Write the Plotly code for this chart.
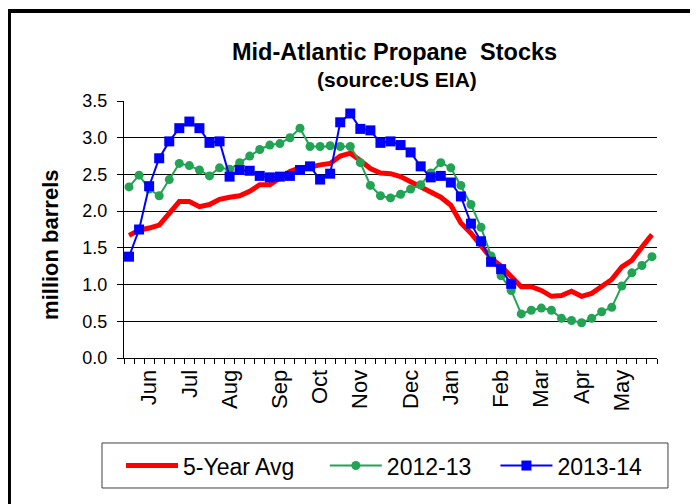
import plotly.graph_objects as go

# weekly points, late May through the following May
weeks = list(range(53))
month_labels = ["Jun", "Jul", "Aug", "Sep", "Oct", "Nov", "Dec", "Jan", "Feb", "Mar", "Apr", "May"]
month_weeks = [2, 6, 10, 15, 19, 23, 28, 32, 37, 41, 45, 49]

avg_5yr = [1.67, 1.74, 1.77, 1.81, 1.97, 2.13, 2.13, 2.06, 2.09, 2.16,
           2.19, 2.21, 2.27, 2.36, 2.36, 2.46, 2.54, 2.59, 2.60, 2.63,
           2.65, 2.75, 2.79, 2.69, 2.58, 2.52, 2.51, 2.47, 2.40, 2.33,
           2.27, 2.19, 2.08, 1.84, 1.70, 1.54, 1.36, 1.25, 1.10, 0.97,
           0.97, 0.92, 0.84, 0.85, 0.91, 0.84, 0.88, 0.98, 1.07, 1.24,
           1.33, 1.51, 1.68]

stocks_2012_13 = [2.33, 2.49, 2.30, 2.21, 2.43, 2.65, 2.62, 2.56, 2.48, 2.59,
                  2.57, 2.66, 2.75, 2.84, 2.90, 2.92, 3.00, 3.13, 2.88, 2.88,
                  2.89, 2.88, 2.88, 2.66, 2.35, 2.21, 2.18, 2.23, 2.30, 2.36,
                  2.52, 2.66, 2.59, 2.35, 2.09, 1.78, 1.39, 1.12, 0.92, 0.60,
                  0.65, 0.68, 0.65, 0.54, 0.51, 0.48, 0.54, 0.63, 0.69, 0.98,
                  1.16, 1.26, 1.38]

stocks_2013_14 = [1.38, 1.75, 2.34, 2.72, 2.95, 3.13, 3.22, 3.13, 2.93, 2.95,
                  2.47, 2.56, 2.55, 2.48, 2.46, 2.47, 2.48, 2.56, 2.61, 2.43,
                  2.51, 3.21, 3.33, 3.12, 3.10, 2.93, 2.95, 2.90, 2.80, 2.61,
                  2.46, 2.48, 2.39, 2.20, 1.83, 1.59, 1.31, 1.21, 1.01]

FONT = "Liberation Sans, Arial, sans-serif"
NBSP = "\u00a0"

fig = go.Figure()
fig.add_trace(go.Scatter(x=weeks, y=avg_5yr, mode="lines", name="5-Year Avg" + NBSP * 4,
                         line=dict(color="#ff0000", width=5)))
fig.add_trace(go.Scatter(x=weeks, y=stocks_2012_13, mode="lines+markers", name="2012-13" + NBSP * 3,
                         line=dict(color="#22a454", width=2),
                         marker=dict(symbol="circle", size=9, color="#22a454")))
fig.add_trace(go.Scatter(x=weeks[:len(stocks_2013_14)], y=stocks_2013_14,
                         mode="lines+markers", name="2013-14",
                         line=dict(color="#0000ff", width=2),
                         marker=dict(symbol="square", size=10, color="#0000ff")))

# page has an 8px body margin, so the figure is 8px smaller than the window
fig.update_layout(
    width=690, height=496,
    margin=dict(l=116, r=41, t=93, b=146),
    paper_bgcolor="white", plot_bgcolor="white",
    font=dict(family=FONT, color="black"),
    showlegend=True,
    legend=dict(orientation="h", x=-0.0056, xanchor="left", y=-0.335, yanchor="top",
                borderwidth=0, bgcolor="rgba(0,0,0,0)",
                font=dict(size=23, family=FONT), itemwidth=52,
                traceorder="normal"),
    shapes=[
        # outer frame
        dict(type="rect", xref="paper", yref="paper",
             x0=-0.2158, x1=1.12, y0=-0.65, y1=1.350,
             line=dict(color="black", width=4)),
        # legend box
        dict(type="rect", xref="paper", yref="paper",
             x0=-0.0413, x1=1.0206, y0=-0.5058, y1=-0.3307,
             line=dict(color="#404040", width=1)),
    ],
    annotations=[
        dict(text="<b>Mid-Atlantic Propane  Stocks</b>", xref="paper", yref="paper",
             x=0.507, y=1.1907, xanchor="center", yanchor="middle", showarrow=False,
             font=dict(size=23.5, family=FONT)),
        dict(text="<b>(source:US EIA)</b>", xref="paper", yref="paper",
             x=0.512, y=1.0856, xanchor="center", yanchor="middle", showarrow=False,
             font=dict(size=21, family=FONT)),
        dict(text="<b>million barrels</b>", textangle=-90,
             xref="paper", yref="paper", x=-0.137, y=0.44,
             xanchor="center", yanchor="middle", showarrow=False,
             font=dict(size=22, family=FONT)),
    ],
)

fig.update_xaxes(range=[-0.5, 52.5], showgrid=False, zeroline=False,
                 showline=True, linecolor="black", linewidth=1,
                 tickmode="array", tickvals=month_weeks, ticktext=month_labels,
                 tickangle=-90, ticks="", ticklabelstandoff=2,
                 tickfont=dict(size=22, family=FONT),
                 minor=dict(tickmode="linear", tick0=-0.5, dtick=1,
                            ticks="outside", ticklen=5, tickcolor="black",
                            showgrid=False))
fig.update_yaxes(range=[0, 3.5], dtick=0.5, tickformat=".1f",
                 showgrid=True, gridcolor="black", gridwidth=1, zeroline=False,
                 showline=True, linecolor="black", linewidth=1,
                 ticks="outside", ticklen=6, tickcolor="black", ticklabelstandoff=6,
                 tickfont=dict(size=18, family=FONT))

fig.write_html("out.html")
